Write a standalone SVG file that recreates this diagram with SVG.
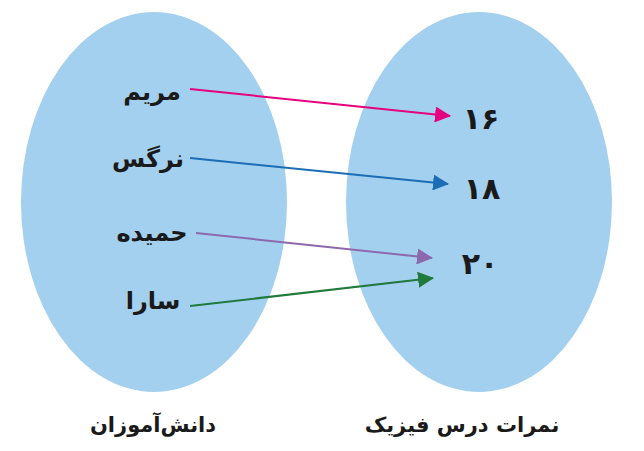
<svg xmlns="http://www.w3.org/2000/svg" width="644" height="451" viewBox="0 0 644 451">
<style>
.set{fill:#a3d0ef;}
.lbl{font-family:"DejaVu Sans","Noto Sans",sans-serif;font-weight:bold;font-size:24px;fill:#1a1a1a;text-anchor:middle;}
.num{font-family:"DejaVu Sans","Noto Sans",sans-serif;font-weight:bold;font-size:30px;fill:#1a1a1a;text-anchor:middle;}
.cap{font-family:"DejaVu Sans","Noto Sans",sans-serif;font-weight:bold;font-size:21px;fill:#1a1a1a;text-anchor:middle;}
.c{fill:none;stroke-width:2;}
</style>
<defs>
<marker id="mPink" markerWidth="16" markerHeight="16" refX="15" refY="8" orient="auto" markerUnits="userSpaceOnUse"><path d="M0,0 L16,8 L0,16 Z" fill="#e6007e"/></marker>
<marker id="mBlue" markerWidth="16" markerHeight="16" refX="15" refY="8" orient="auto" markerUnits="userSpaceOnUse"><path d="M0,0 L16,8 L0,16 Z" fill="#1b6db5"/></marker>
<marker id="mPurple" markerWidth="16" markerHeight="16" refX="15" refY="8" orient="auto" markerUnits="userSpaceOnUse"><path d="M0,0 L16,8 L0,16 Z" fill="#8d68ad"/></marker>
<marker id="mGreen" markerWidth="16" markerHeight="16" refX="15" refY="8" orient="auto" markerUnits="userSpaceOnUse"><path d="M0,0 L16,8 L0,16 Z" fill="#1f7a3c"/></marker>
</defs>
<rect width="644" height="451" fill="#ffffff"/>
<g id="set-students"><ellipse class="set" cx="154" cy="202" rx="133" ry="190"/></g>
<g id="set-grades"><ellipse class="set" cx="479" cy="202" rx="133" ry="190"/></g>
<g id="connectors">
<line class="c" x1="190" y1="89" x2="450" y2="116" stroke="#e6007e" marker-end="url(#mPink)"/>
<line class="c" x1="190" y1="158" x2="448" y2="184" stroke="#1b6db5" marker-end="url(#mBlue)"/>
<line class="c" x1="196" y1="233" x2="432" y2="258" stroke="#8d68ad" marker-end="url(#mPurple)"/>
<line class="c" x1="190" y1="306" x2="433" y2="278" stroke="#1f7a3c" marker-end="url(#mGreen)"/>
</g>
<g id="n-maryam"><text class="lbl" x="152" y="100" direction="rtl">مریم</text></g>
<g id="n-narges"><text class="lbl" x="148" y="167" direction="rtl">نرگس</text></g>
<g id="n-hamideh"><text class="lbl" x="152" y="241" direction="rtl">حمیده</text></g>
<g id="n-sara"><text class="lbl" x="153" y="309" direction="rtl">سارا</text></g>
<g id="n-16"><text class="num" x="481" y="129">۱۶</text></g>
<g id="n-18"><text class="num" x="482" y="199">۱۸</text></g>
<g id="n-20"><text class="num" x="480" y="274">۲۰</text></g>
<g id="cap-students"><text class="cap" x="153" y="432" direction="rtl">دانش‌آموزان</text></g>
<g id="cap-grades"><text class="cap" x="462" y="432" direction="rtl">نمرات درس فیزیک</text></g>
</svg>
